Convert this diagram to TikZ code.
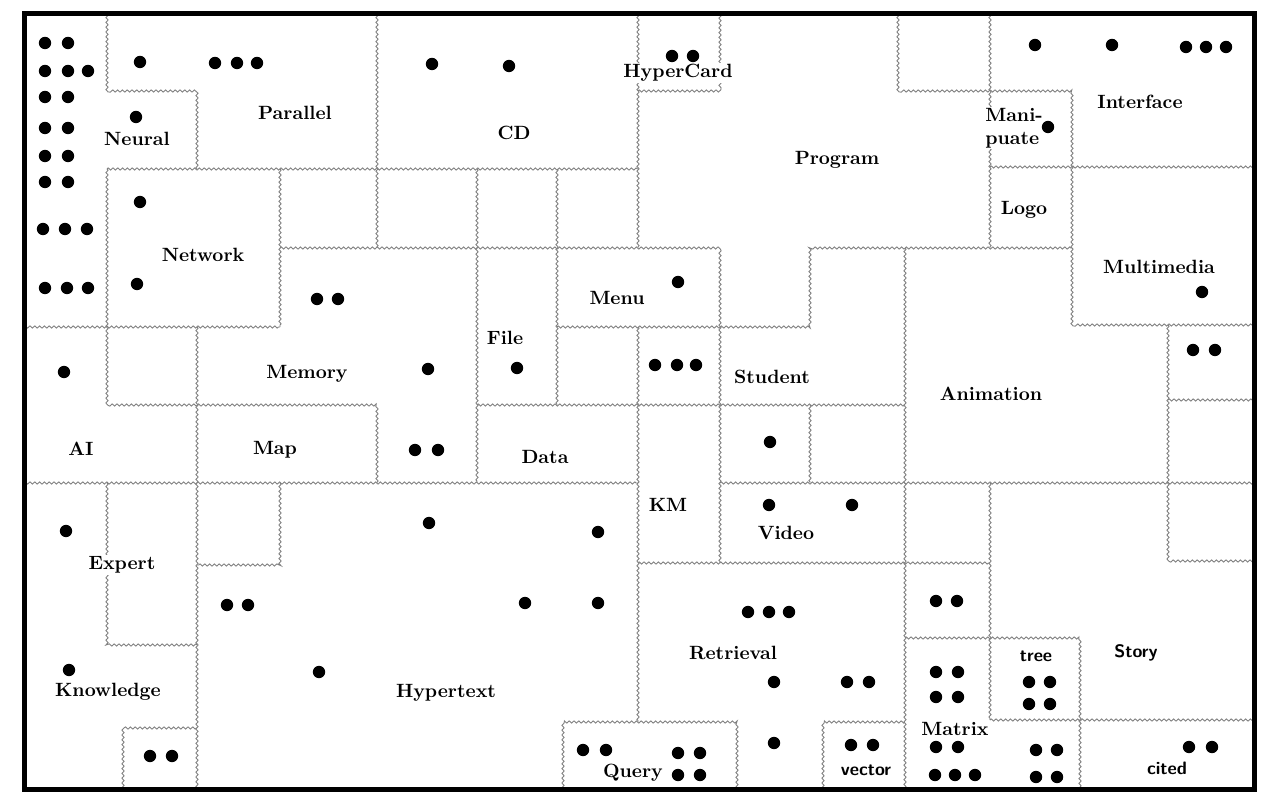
\documentclass[tikz,border=0pt]{standalone}
\usepackage{tikz}
\usetikzlibrary{
  decorations.pathmorphing  % zigzag borders between the regions
}
\def\mydot{3.1pt}
\tikzset{
  border/.style={
    draw=black!50,
    line width=0.45pt,
    decorate,
    decoration={zigzag,segment length=2.4pt,amplitude=0.55pt}
  },
  frame/.style={
    draw,
    line width=2.5pt
  },
  lbl/.style={
    fill=white,
    inner sep=0.6pt,
    align=left,
    font=\fontsize{9.6}{11.5}\selectfont\bfseries
  },
  lbl sans/.style={
    lbl,
    font=\fontsize{9}{10}\selectfont\sffamily\bfseries
  }
}

\begin{document}
\begin{tikzpicture}[x=0.5pt,y=-0.5pt]
\useasboundingbox (0,0) rectangle (1269,796);
% borders between the regions
\path[border] (107,14) -- (107,91) -- (197,91) -- (197,169);
\path[border] (107,169) -- (638,169);
\path[border] (377,14) -- (377,248);
\path[border] (638,14) -- (638,248);
\path[border] (638,91) -- (720,91) -- (720,14);
\path[border] (107,169) -- (107,405) -- (377,405) -- (377,483);
\path[border] (280,169) -- (280,327);
\path[border] (24,327) -- (280,327);
\path[border] (280,248) -- (720,248) -- (720,563);
\path[border] (197,327) -- (197,789);
\path[border] (477,169) -- (477,483);
\path[border] (557,169) -- (557,405);
\path[border] (557,327) -- (810,327) -- (810,248) -- (1072,248);
\path[border] (905,248) -- (905,789);
\path[border] (638,327) -- (638,722);
\path[border] (477,405) -- (905,405);
\path[border] (24,483) -- (638,483);
\path[border] (720,483) -- (1254,483);
\path[border] (810,405) -- (810,483);
\path[border] (107,483) -- (107,645) -- (197,645);
\path[border] (280,483) -- (280,565) -- (197,565);
\path[border] (123,789) -- (123,728) -- (197,728);
\path[border] (638,563) -- (990,563);
\path[border] (990,483) -- (990,720);
\path[border] (905,638) -- (1080,638) -- (1080,789);
\path[border] (990,720) -- (1254,720);
\path[border] (563,789) -- (563,722) -- (737,722) -- (737,789);
\path[border] (823,789) -- (823,722) -- (905,722);
\path[border] (898,14) -- (898,91) -- (1072,91) -- (1072,325) -- (1254,325);
\path[border] (990,14) -- (990,248);
\path[border] (990,167) -- (1254,167);
\path[border] (1168,325) -- (1168,561) -- (1254,561);
\path[border] (1168,400) -- (1254,400);
\draw[frame] (24,14) rectangle (1254,789);
% labels
\node[lbl] (neural)     at (137,139)  {Neural};
\node[lbl] (parallel)   at (295,113)  {Parallel};
\node[lbl] (cd)         at (514,133)  {CD};
\node[lbl] (hypercard)  at (678,73)   {HyperCard};
\node[lbl] (program)    at (837,160)  {Program};
\node[lbl] (manipuate)  at (1014,128) {Mani-\\puate};
\node[lbl] (interface)  at (1140,102) {Interface};
\node[lbl] (logo)       at (1024,210) {Logo};
\node[lbl] (network)    at (203,255)  {Network};
\node[lbl] (multimedia) at (1159,267) {Multimedia};
\node[lbl] (menu)       at (617,298)  {Menu};
\node[lbl] (file)       at (505,338)  {File};
\node[lbl] (memory)     at (307,374)  {Memory};
\node[lbl] (student)    at (772,377)  {Student};
\node[lbl] (animation)  at (991,394)  {Animation};
\node[lbl] (ai)         at (81,449)   {AI};
\node[lbl] (map)        at (275,450)  {Map};
\node[lbl] (data)       at (545,457)  {Data};
\node[lbl] (km)         at (668,505)  {KM};
\node[lbl] (video)      at (786,533)  {Video};
\node[lbl] (expert)     at (122,565)  {Expert};
\node[lbl] (knowledge)  at (108,692)  {Knowledge};
\node[lbl] (hypertext)  at (446,693)  {Hypertext};
\node[lbl] (retrieval)  at (733,653)  {Retrieval};
\node[lbl sans] (story) at (1136,653) {Story};
\node[lbl sans] (tree)  at (1036,656) {tree};
\node[lbl] (matrix)     at (955,729)  {Matrix};
\node[lbl] (query)      at (633,773)  {Query};
\node[lbl sans] (vector) at (866,770) {vector};
\node[lbl sans] (cited) at (1167,768) {cited};
% documents
\foreach \x/\y in {45/43,68/43,45/71,68/71,88/71,45/97,68/97,45/128,68/128,
  45/156,68/156,45/182,68/182,43/229,65/229,87/229,45/288,67/288,88/288,
  140/62,215/63,237/63,257/63,136/117,140/202,137/284,
  317/299,338/299,428/369,415/450,438/450,64/372,517/368,
  432/64,509/66,672/56,693/56,678/282,655/365,677/365,696/365,770/442,
  1035/45,1112/45,1186/47,1206/47,1226/47,1048/127,1202/292,1193/350,1215/350,
  66/531,69/670,150/756,172/756,
  227/605,248/605,319/672,429/523,598/532,525/603,598/603,
  769/505,852/505,748/612,769/612,789/612,774/682,847/682,869/682,774/743,
  583/750,606/750,678/753,700/753,678/775,700/775,851/745,873/745,
  936/601,957/601,936/672,958/672,936/697,958/697,936/747,958/747,
  935/775,955/775,975/775,1029/682,1050/682,1029/704,1050/704,
  1036/750,1057/750,1036/777,1057/777,1189/747,1212/747}
  \fill (\x,\y) circle[radius=\mydot];
\end{tikzpicture}
\end{document}
